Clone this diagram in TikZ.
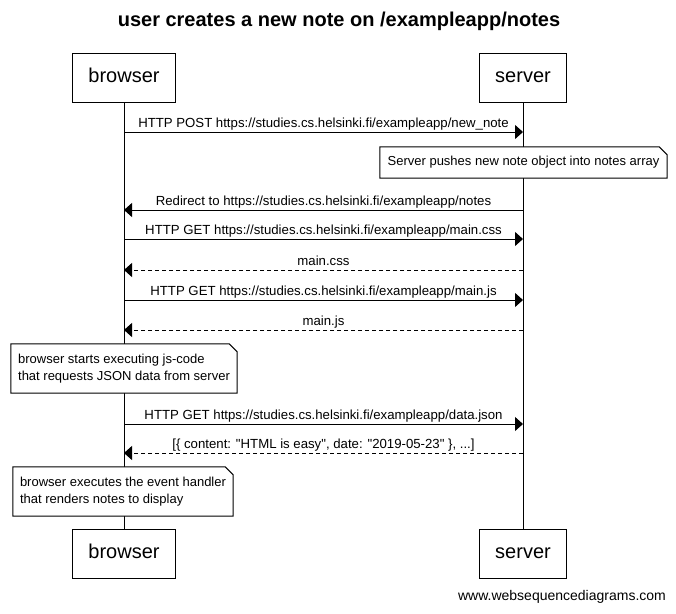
\documentclass[tikz,border=0pt]{standalone}
\usepackage{fontspec}
\setmainfont{Liberation Sans}
\newfontfamily\plainfont{Liberation Sans}
\usetikzlibrary{arrows.meta}
\tikzset{
	actor/.style={draw, fill=white, line width=1pt, inner xsep=16pt, minimum height=49pt, text height=14pt, text depth=4pt, font=\fontsize{20}{24}\selectfont},
	msg/.style={line width=1pt, -{Triangle[length=8pt,width=14pt]}},
	reply/.style={msg, dash pattern=on 4pt off 3pt},
	lbl/.style={midway, above=1pt, inner sep=0pt, text height=10pt, text depth=3pt, font=\fontsize{13.2}{15}\selectfont},
	memo/.style={align=left, inner sep=0pt, font=\fontsize{13}{17}\selectfont}
}
\newcommand{\memobox}[1]{%
	\filldraw[fill=white, line width=1pt] (#1.south west) -- (#1.north west) -- ([xshift=-8pt]#1.north east) -- ([yshift=-8pt]#1.north east) -- (#1.south east) -- cycle;}
\begin{document}
\begin{tikzpicture}[x=1pt,y=-1pt]
			\useasboundingbox[fill=white] (0,0) rectangle (676,613);
			\node[font=\fontsize{20}{24}\selectfont\bfseries] (title) at (339,21) {user creates a new note on /exampleapp/notes};
			% participants
			\node[actor] (browser) at (124,77.5) {browser};
			\node[actor] (server) at (523,77.5) {server};
			\node[actor] (browserB) at (124,553.5) {browser};
			\node[actor] (serverB) at (523,553.5) {server};
			\draw[line width=1pt] (browser) -- (browserB);
			\draw[line width=1pt] (server) -- (serverB);
			% points on the lifelines
			\coordinate (b1) at (124,132); \coordinate (s1) at (523,132);
			\coordinate (b2) at (124,210); \coordinate (s2) at (523,210);
			\coordinate (b3) at (124,239); \coordinate (s3) at (523,239);
			\coordinate (b4) at (124,270); \coordinate (s4) at (523,270);
			\coordinate (b5) at (124,300); \coordinate (s5) at (523,300);
			\coordinate (b6) at (124,330); \coordinate (s6) at (523,330);
			\coordinate (b7) at (124,424); \coordinate (s7) at (523,424);
			\coordinate (b8) at (124,453); \coordinate (s8) at (523,453);
			% messages
			\draw[msg] (b1) -- (s1) node[lbl] {HTTP POST https://studies.cs.helsinki.fi/exampleapp/new\_note};
			\draw[msg] (s2) -- (b2) node[lbl] {Redirect to https://studies.cs.helsinki.fi/exampleapp/notes};
			\draw[msg] (b3) -- (s3) node[lbl] {HTTP GET https://studies.cs.helsinki.fi/exampleapp/main.css};
			\draw[reply] (s4) -- (b4) node[lbl] {main.css};
			\draw[msg] (b5) -- (s5) node[lbl] {HTTP GET https://studies.cs.helsinki.fi/exampleapp/main.js};
			\draw[reply] (s6) -- (b6) node[lbl] {main.js};
			\draw[msg] (b7) -- (s7) node[lbl] {HTTP GET https://studies.cs.helsinki.fi/exampleapp/data.json};
			\draw[reply] (s8) -- (b8) node[lbl] {\plainfont [\{ content: "HTML is easy", date: "2019-05-23" \}, ...]};
			% notes
			\path (523.5,162.5) node[memo, minimum width=287pt, minimum height=31pt] (push) {};
			\memobox{push}
			\node[memo] at (push) {Server pushes new note object into notes array};
			\path (124,368.5) node[memo, minimum width=226pt, minimum height=49pt] (jscode) {};
			\memobox{jscode}
			\node[memo] at (jscode) {browser starts executing js-code\\that requests JSON data from server};
			\path (123,491.5) node[memo, minimum width=220pt, minimum height=49pt] (handler) {};
			\memobox{handler}
			\node[memo] at (handler) {browser executes the event handler\\that renders notes to display};
			\node[font=\fontsize{14}{16}\selectfont] (footer) at (562,597) {www.websequencediagrams.com};
		\end{tikzpicture}
\end{document}
